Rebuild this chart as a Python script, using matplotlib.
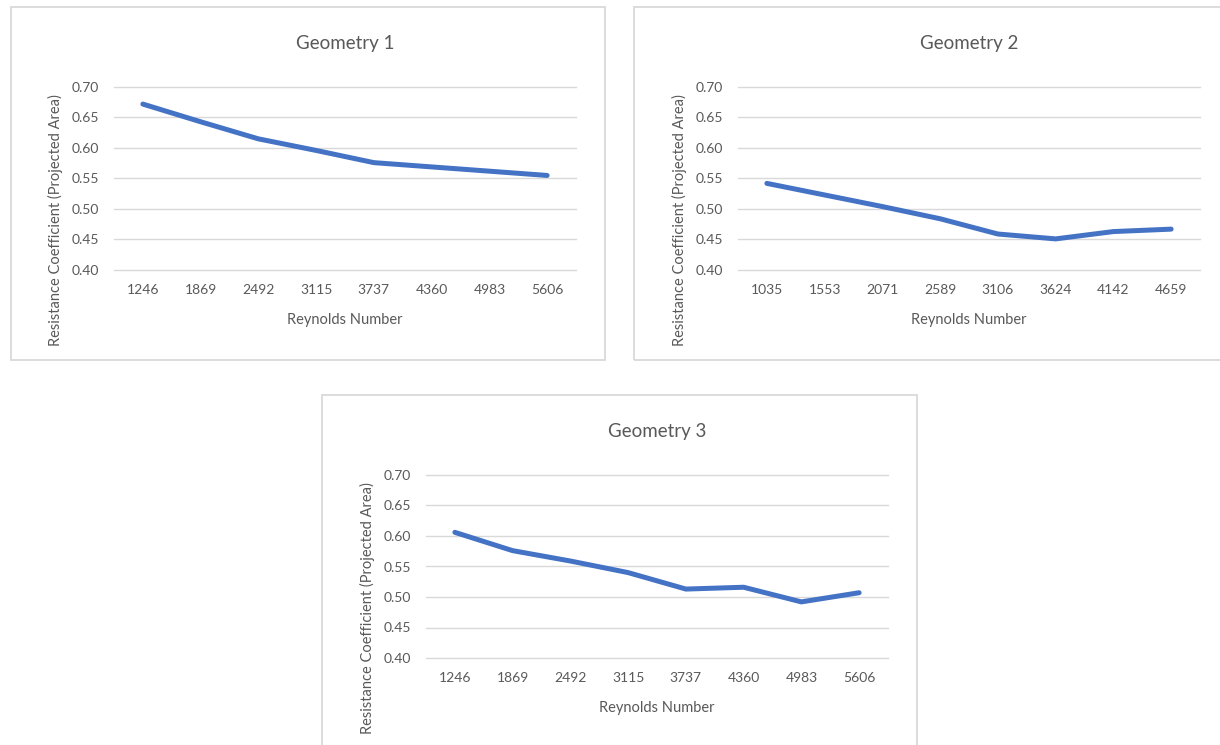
import matplotlib.pyplot as plt
from matplotlib.patches import Rectangle

plt.rcParams["font.family"] = ["Lato", "DejaVu Sans"]

# data
re_g1 = ["1246", "1869", "2492", "3115", "3737", "4360", "4983", "5606"]
cd_g1 = [0.672, 0.643, 0.615, 0.596, 0.576, 0.569, 0.562, 0.555]

re_g2 = ["1035", "1553", "2071", "2589", "3106", "3624", "4142", "4659"]
cd_g2 = [0.542, 0.523, 0.504, 0.484, 0.459, 0.451, 0.463, 0.467]

re_g3 = ["1246", "1869", "2492", "3115", "3737", "4360", "4983", "5606"]
cd_g3 = [0.606, 0.576, 0.559, 0.540, 0.513, 0.516, 0.492, 0.507]

y_ticks = [0.40, 0.45, 0.50, 0.55, 0.60, 0.65, 0.70]

W, H = 1220, 745
TXT = "#595959"
GRID = "#D9D9D9"
BLUE = "#4472C4"

fig = plt.figure(figsize=(W / 100, H / 100), dpi=100)
fig.patch.set_facecolor("white")


def px_box(x0, y0, x1, y1):
    # pixel coords (top-left origin) -> figure fraction rect
    return [x0 / W, 1 - y1 / H, (x1 - x0) / W, (y1 - y0) / H]


def draw_chart(box, plot, labels, values, title):
    bx0, by0, bx1, by1 = box
    fig.patches.append(Rectangle((bx0 / W, 1 - by1 / H), (bx1 - bx0) / W, (by1 - by0) / H,
                                 transform=fig.transFigure, fill=False,
                                 edgecolor=GRID, linewidth=1.3, zorder=0))
    ax = fig.add_axes(px_box(*plot))
    x = list(range(len(labels)))
    ax.plot(x, values, color=BLUE, linewidth=3.6, solid_capstyle="round",
            solid_joinstyle="round", zorder=3)
    ax.set_xlim(-0.5, len(labels) - 0.5)
    ax.set_ylim(0.40, 0.70)
    ax.set_yticks(y_ticks)
    ax.set_yticklabels([f"{v:.2f}" for v in y_ticks])
    ax.set_xticks(x)
    ax.set_xticklabels(labels)
    ax.grid(axis="y", color=GRID, linewidth=1.0)
    for gl in ax.get_ygridlines():
        gl.set_clip_on(False)
    ax.set_axisbelow(True)
    for s in ax.spines.values():
        s.set_visible(False)
    ax.tick_params(length=0, labelsize=10, colors=TXT)
    ax.tick_params(axis="x", pad=10)
    ax.tick_params(axis="y", pad=11)
    ax.set_facecolor("none")

    px0, py0, px1, py1 = plot
    cx = (px0 + px1) / 2
    fig.text(cx / W, 1 - (by0 + 36) / H, title, ha="center", va="center",
             fontsize=13.5, color=TXT)
    fig.text(cx / W, 1 - (py1 + 50) / H, "Reynolds Number", ha="center", va="center",
             fontsize=10.5, color=TXT)
    fig.text((px0 - 59) / W, 1 - (py0 + 133) / H, "Resistance Coefficient (Projected Area)",
             rotation=90, ha="center", va="center", fontsize=10.5, color=TXT)


draw_chart((11, 7, 605, 360), (114, 87, 576, 270), re_g1, cd_g1, "Geometry 1")
draw_chart((634, 7, 1232, 360), (738, 87, 1200, 270), re_g2, cd_g2, "Geometry 2")
draw_chart((322, 395, 917, 760), (426, 475, 888, 658), re_g3, cd_g3, "Geometry 3")

fig.savefig("out.png", dpi=100, facecolor="white")
